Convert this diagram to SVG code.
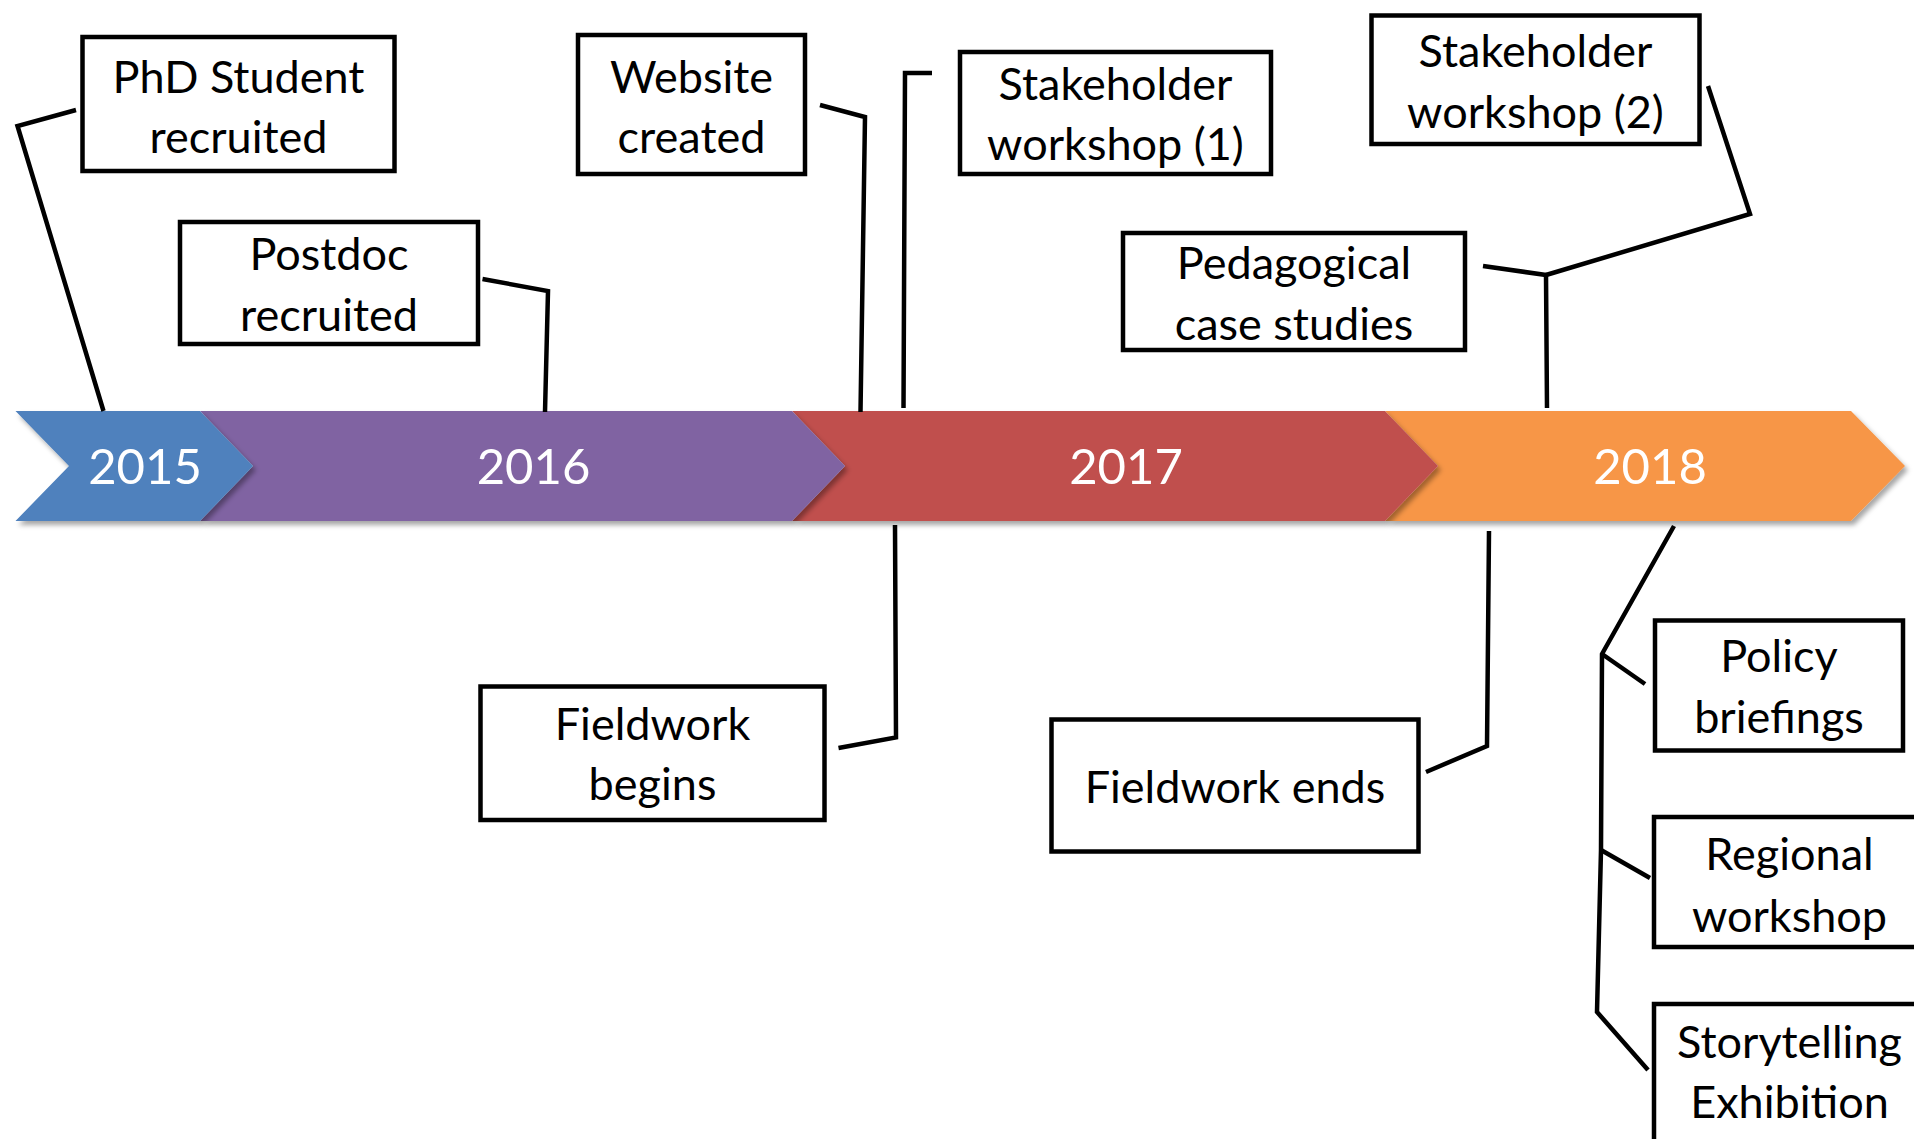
<svg xmlns="http://www.w3.org/2000/svg" width="1914" height="1139" viewBox="0 0 1914 1139">
  <defs>
    <filter id="shadow" x="-5%" y="-20%" width="110%" height="150%">
      <feDropShadow dx="3" dy="4" stdDeviation="2.5" flood-color="#000" flood-opacity="0.35"/>
    </filter>
    <style>
      .box { fill: #ffffff; stroke: #000000; stroke-width: 4.5; }
      .lbl { font-family: Lato, "Open Sans", "Liberation Sans", sans-serif; font-size: 45px; fill: #000000; text-anchor: middle; }
      .year { font-family: Lato, "Open Sans", "Liberation Sans", sans-serif; font-size: 49px; fill: #ffffff; text-anchor: middle; }
      .conn { fill: none; stroke: #000000; stroke-width: 4.5; stroke-linejoin: miter; stroke-linecap: butt; }
    </style>
  </defs>
  <rect x="0" y="0" width="1914" height="1139" fill="#ffffff"/>

  <g id="timeline">
    <g id="y2018" filter="url(#shadow)">
      <path d="M1385,411 L1851,411 L1905,466 L1851,521 L1385,521 L1438,466 Z" fill="#F79646"/>
    </g>
    <g id="y2017" filter="url(#shadow)">
      <path d="M792,411 L1385,411 L1438,466 L1385,521 L792,521 L845,466 Z" fill="#C0504D"/>
    </g>
    <g id="y2016" filter="url(#shadow)">
      <path d="M200,411 L792,411 L845,466 L792,521 L200,521 L253,466 Z" fill="#8064A2"/>
    </g>
    <g id="y2015" filter="url(#shadow)">
      <path d="M15.5,411 L200,411 L253,466 L200,521 L15.5,521 L69,466 Z" fill="#4F81BD"/>
    </g>
    <text class="year" x="145" y="484">2015</text>
    <text class="year" x="533.5" y="484">2016</text>
    <text class="year" x="1126" y="484">2017</text>
    <text class="year" x="1650" y="484">2018</text>
  </g>

  <g id="connectors">
    <polyline class="conn" points="76,110 17.5,126 103.5,411"/>
    <polyline class="conn" points="482.5,279 548,291 545,412"/>
    <polyline class="conn" points="820,105 865,117 860.5,412"/>
    <polyline class="conn" points="932,73 905,73 903.5,408"/>
    <polyline class="conn" points="1483,266 1546,275 1547,408"/>
    <polyline class="conn" points="1546,275 1750,214 1708,86"/>
    <polyline class="conn" points="838.5,748 896,737.5 895,525"/>
    <polyline class="conn" points="1426,772 1487,746 1489,531"/>
    <polyline class="conn" points="1674,526 1602,654 1601,850 1597,1012 1648,1070"/>
    <polyline class="conn" points="1602,654 1645,684"/>
    <polyline class="conn" points="1601,850 1650,878"/>
  </g>

  <g id="phd">
    <rect class="box" x="82.5" y="37" width="312" height="134"/>
    <text class="lbl" x="238.5" y="93">PhD Student</text>
    <text class="lbl" x="238.5" y="153">recruited</text>
  </g>
  <g id="postdoc">
    <rect class="box" x="180" y="222" width="298" height="122"/>
    <text class="lbl" x="329" y="270">Postdoc</text>
    <text class="lbl" x="329" y="331">recruited</text>
  </g>
  <g id="website">
    <rect class="box" x="578" y="35" width="227" height="139"/>
    <text class="lbl" x="691.5" y="93">Website</text>
    <text class="lbl" x="691.5" y="153">created</text>
  </g>
  <g id="stakeholder1">
    <rect class="box" x="960" y="52" width="311" height="122"/>
    <text class="lbl" x="1115.5" y="100">Stakeholder</text>
    <text class="lbl" x="1115.5" y="160">workshop (1)</text>
  </g>
  <g id="pedagogical">
    <rect class="box" x="1123" y="233" width="342" height="117"/>
    <text class="lbl" x="1294" y="279">Pedagogical</text>
    <text class="lbl" x="1294" y="340">case studies</text>
  </g>
  <g id="stakeholder2">
    <rect class="box" x="1371.5" y="15.5" width="328" height="128.5"/>
    <text class="lbl" x="1535.5" y="67">Stakeholder</text>
    <text class="lbl" x="1535.5" y="128">workshop (2)</text>
  </g>
  <g id="fieldwork-begins">
    <rect class="box" x="480.5" y="686.5" width="344" height="133.5"/>
    <text class="lbl" x="652.5" y="740">Fieldwork</text>
    <text class="lbl" x="652.5" y="800">begins</text>
  </g>
  <g id="fieldwork-ends">
    <rect class="box" x="1051.5" y="719.5" width="367" height="132"/>
    <text class="lbl" x="1235" y="803">Fieldwork ends</text>
  </g>
  <g id="policy">
    <rect class="box" x="1655" y="620.5" width="248" height="130"/>
    <text class="lbl" x="1779" y="672">Policy</text>
    <text class="lbl" x="1779" y="733">briefings</text>
  </g>
  <g id="regional">
    <rect class="box" x="1654" y="817" width="273" height="130"/>
    <text class="lbl" x="1789.5" y="870">Regional</text>
    <text class="lbl" x="1789.5" y="932">workshop</text>
  </g>
  <g id="storytelling">
    <rect class="box" x="1654" y="1004" width="273" height="140"/>
    <text class="lbl" x="1789.5" y="1058">Storytelling</text>
    <text class="lbl" x="1789.5" y="1118">Exhibition</text>
  </g>
</svg>
